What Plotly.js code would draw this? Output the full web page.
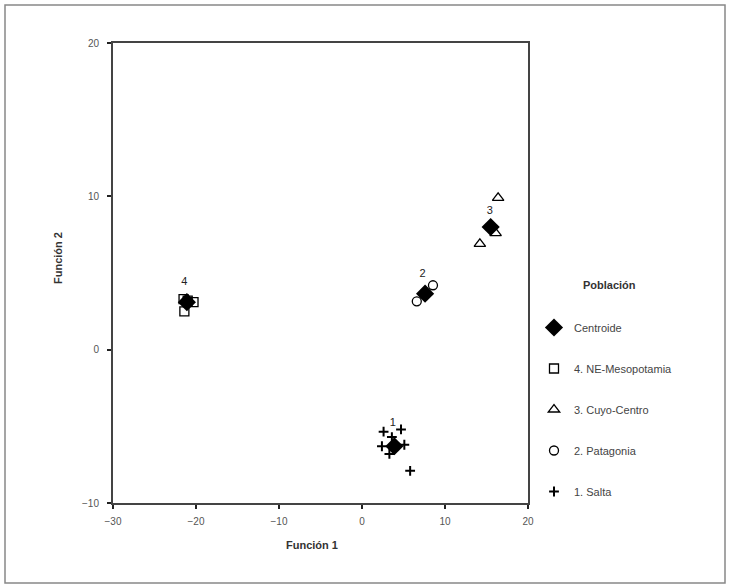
<!DOCTYPE html>
<html><head><meta charset="utf-8">
<script src="https://cdn.plot.ly/plotly-3.0.1.min.js"></script>
<style>body{margin:0;background:#fff}#c{width:731px;height:588px}</style>
</head><body><div id="c"></div>
<script>
// Data
var centroidX = [-21.1, 7.6, 15.5, 3.9];
var centroidY = [3.1, 3.65, 8.0, -6.3];
var groupLabels = ["4", "2", "3", "1"];
var labelX = [-21.4, 7.3, 15.4, 3.7];
var labelY = [4.4, 4.95, 9.0, -4.8];

var nemX = [-21.5, -20.3, -21.4, -21.0];
var nemY = [3.3, 3.1, 2.5, 3.2];
var cuyoX = [16.4, 14.2, 16.1];
var cuyoY = [9.9, 6.9, 7.6];
var patX = [6.6, 8.55];
var patY = [3.15, 4.2];
var saltaX = [2.6, 4.7, 2.4, 3.3, 5.1, 5.8, 3.6];
var saltaY = [-5.35, -5.2, -6.3, -6.8, -6.2, -7.9, -5.7];

var legendNames = ["Centroide", "4. NE-Mesopotamia", "3. Cuyo-Centro", "2. Patagonia", "1. Salta"];
var legendTitle = "Población";
var xTitle = "Función 1";
var yTitle = "Función 2";

var font = "Liberation Sans, Arial, sans-serif";
var traces = [
  {x: centroidX, y: centroidY, mode: "markers", name: legendNames[0], legendgroup: "a",
   marker: {symbol: "diamond", size: 14, color: "#000"}},
  {x: nemX, y: nemY, mode: "markers", name: legendNames[1], legendgroup: "b",
   marker: {symbol: "square-open", size: 9, color: "#000", line: {width: 1.3}}},
  {x: cuyoX, y: cuyoY, mode: "markers", name: legendNames[2], legendgroup: "c",
   marker: {symbol: "triangle-up-open", size: 10, color: "#000", line: {width: 1.3}}},
  {x: patX, y: patY, mode: "markers", name: legendNames[3], legendgroup: "d",
   marker: {symbol: "circle-open", size: 9, color: "#000", line: {width: 1.3}}},
  {x: saltaX, y: saltaY, mode: "markers", name: legendNames[4], legendgroup: "e",
   marker: {symbol: "cross-thin", size: 7, color: "#000", line: {width: 2, color: "#000"}}},
  {x: labelX, y: labelY, mode: "text", text: groupLabels, showlegend: false, hoverinfo: "skip",
   textfont: {family: font, size: 11, color: "#222"}}
];

var L = 113, R = 528, T = 43, B = 503;
var pw = R - L, ph = B - T;
function px(v){return (v - L)/pw;}
function py(v){return (B - v)/ph;}

var layout = {
  width: 731, height: 588,
  margin: {l: L, r: 731 - R, t: T, b: 588 - B},
  paper_bgcolor: "#fff", plot_bgcolor: "#fff",
  font: {family: font, size: 10, color: "#444"},
  showlegend: true,
  legend: {x: px(534), y: py(313), xanchor: "left", yanchor: "top",
    font: {size: 11, color: "#444"}, traceorder: "grouped", tracegroupgap: 22,
    itemsizing: "trace", bgcolor: "rgba(0,0,0,0)"},
  xaxis: {range: [-30, 20], tickvals: [-30, -20, -10, 0, 10, 20], ticks: "outside", ticklen: 4,
    tickwidth: 2, tickcolor: "#222", showline: true, linecolor: "#444", linewidth: 2, mirror: true,
    showgrid: false, zeroline: false, tickfont: {size: 10, color: "#555"}, ticklabelstandoff: 4},
  yaxis: {range: [-10, 20], tickvals: [-10, 0, 10, 20], ticks: "outside", ticklen: 4,
    tickwidth: 2, tickcolor: "#222", showline: true, linecolor: "#444", linewidth: 2, mirror: true,
    showgrid: false, zeroline: false, tickfont: {size: 10, color: "#555"}, ticklabelstandoff: 6},
  annotations: [
    {text: "<b>" + legendTitle + "</b>", xref: "paper", yref: "paper", x: px(609), y: py(285),
     xanchor: "center", yanchor: "middle", showarrow: false, font: {size: 11, color: "#333"}},
    {text: "<b>" + xTitle + "</b>", xref: "paper", yref: "paper", x: px(312), y: py(545),
     xanchor: "center", yanchor: "middle", showarrow: false, font: {size: 11, color: "#333"}},
    {text: "<b>" + yTitle + "</b>", xref: "paper", yref: "paper", x: px(58), y: py(258),
     xanchor: "center", yanchor: "middle", showarrow: false, textangle: -90,
     font: {size: 11, color: "#333"}}
  ],
  shapes: [{type: "rect", xref: "paper", yref: "paper",
    x0: px(5), x1: px(725), y0: py(583), y1: py(5),
    line: {color: "#888", width: 1.5}}]
};

Plotly.newPlot("c", traces, layout, {displayModeBar: false, staticPlot: true});
</script></body></html>
